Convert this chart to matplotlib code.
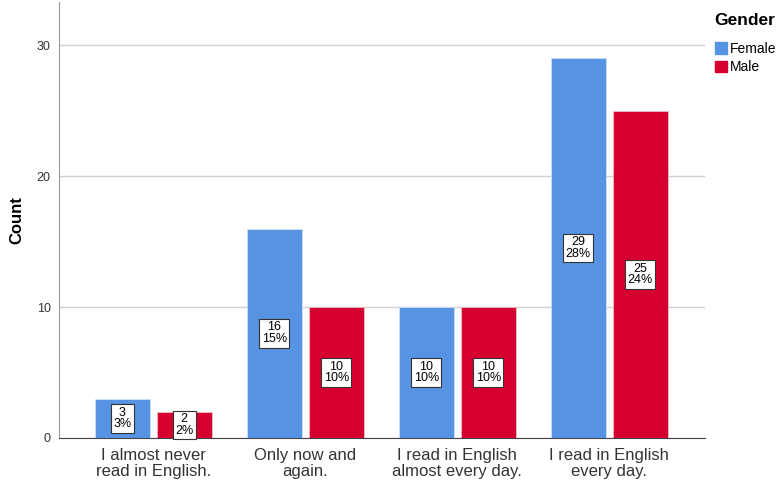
import matplotlib
matplotlib.use('Agg')
import matplotlib.pyplot as plt
import numpy as np
from matplotlib.patches import Patch

plt.rcParams['font.family'] = ['Liberation Sans', 'DejaVu Sans']

categories = ['I almost never\nread in English.', 'Only now and\nagain.',
              'I read in English\nalmost every day.', 'I read in English\nevery day.']
female = [3, 16, 10, 29]
male = [2, 10, 10, 25]
female_pct = ['3%', '15%', '10%', '28%']
male_pct = ['2%', '10%', '10%', '24%']

blue = '#5694E3'
red = '#D6002F'

fig = plt.figure(figsize=(7.8, 4.96), dpi=100)
ax = fig.add_axes([59 / 780, 58 / 496, 646 / 780, 436 / 496])

x = np.arange(len(categories))
w = 0.362
off = 0.204
ax.bar(x - off, female, w, color=blue, edgecolor='#cfe0f5', linewidth=0.6, zorder=3)
ax.bar(x + off, male, w, color=red, edgecolor='#f0c0c8', linewidth=0.6, zorder=3)

box = dict(boxstyle='square,pad=0.2', fc='white', ec='#333333', lw=0.8)
for xi, v, p in zip(x - off, female, female_pct):
    ax.text(xi, v / 2, f'{v}\n{p}', ha='center', va='center', fontsize=9,
            linespacing=0.95, bbox=box, zorder=4)
for xi, v, p in zip(x + off, male, male_pct):
    ax.text(xi, v / 2, f'{v}\n{p}', ha='center', va='center', fontsize=9,
            linespacing=0.95, bbox=box, zorder=4)

ax.set_xlim(-0.62, 3.63)
ax.set_ylim(0, 33.3)
ax.set_yticks([0, 10, 20, 30])
ax.set_xticks(x)
ax.set_xticklabels(categories, fontsize=12, color='#222222', linespacing=1.1)
ax.tick_params(axis='both', length=0, colors='#333333')
ax.tick_params(axis='y', labelsize=9, pad=6)
ax.tick_params(axis='x', pad=7)
ax.yaxis.grid(True, color='#d0d0d0', linewidth=1, zorder=0)
ax.spines['top'].set_visible(False)
ax.spines['right'].set_visible(False)
ax.spines['left'].set_color('#999999')
ax.spines['bottom'].set_color('#444444')
ax.set_ylabel('Count', fontsize=12, fontweight='bold', labelpad=9)

handles = [Patch(color=blue, label='Female'), Patch(color=red, label='Male')]
leg = fig.legend(handles=handles, loc='upper left', bbox_to_anchor=(705 / 780, 1 - 3 / 496),
                 frameon=False, fontsize=10, title='Gender', handlelength=0.9, handleheight=0.9,
                 handletextpad=0.2, labelspacing=0.35, borderpad=0.2)
leg.get_title().set_fontweight('bold')
leg.get_title().set_fontsize(12.5)
leg._legend_box.align = 'left'
leg._legend_box.sep = 10

fig.savefig('out.png', dpi=100)
